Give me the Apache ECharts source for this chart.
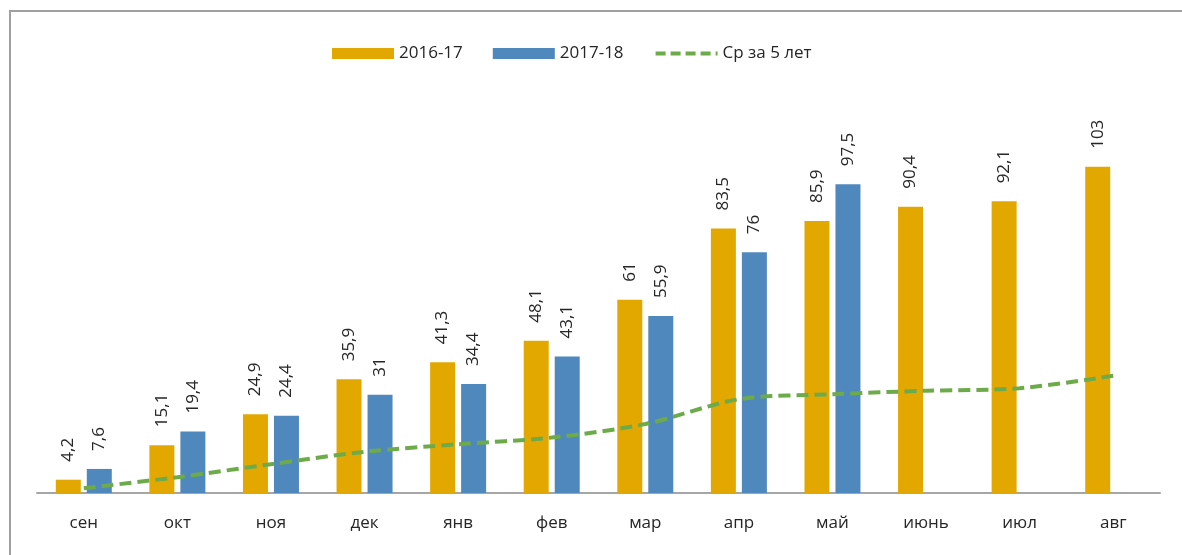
<!DOCTYPE html>
<html><head><meta charset="utf-8">
<script src="https://cdn.jsdelivr.net/npm/echarts@6/dist/echarts.min.js"></script>
<style>
html,body{margin:0;padding:0;background:#fff;overflow:hidden;}
#frame{position:absolute;left:9px;top:10px;width:1200px;height:600px;border-left:2px solid #a0a0a0;border-top:2px solid #a0a0a0;box-sizing:border-box;}
#chart{position:absolute;left:0;top:0;width:1182px;height:555px;}
</style></head>
<body>
<div id="frame"></div>
<div id="chart"></div>
<script>
const categories = ['сен','окт','ноя','дек','янв','фев','мар','апр','май','июнь','июл','авг'];
const s2016 = [4.2,15.1,24.9,35.9,41.3,48.1,61,83.5,85.9,90.4,92.1,103];
const s2017 = [7.6,19.4,24.4,31,34.4,43.1,55.9,76,97.5,null,null,null];
const avg5 = [1.5,5.0,9.1,13.0,15.4,17.5,21.8,29.6,31.2,32.3,33.1,37.0];
const seriesNames = ['2016-17','2017-18','Ср за 5 лет'];

const fmt = p => (p.value == null ? '' : String(p.value).replace('.', ','));
const lbl = {
  show: true, position: 'top', rotate: 90, distance: 18,
  align: 'left', verticalAlign: 'middle',
  fontFamily: 'Open Sans', fontSize: 17, color: '#262626', formatter: fmt
};
const chart = echarts.init(document.getElementById('chart'), null, {renderer:'canvas'});
chart.setOption({
  animation: false,
  textStyle: {fontFamily: 'Open Sans'},
  legend: {
    left: 327, top: 40, itemWidth: 62, itemHeight: 11, itemGap: 30,
    textStyle: {fontFamily: 'Open Sans', fontSize: 17, color: '#262626'},
    data: [
      {name: seriesNames[0], icon: 'rect'},
      {name: seriesNames[1], icon: 'rect'},
      {name: seriesNames[2], itemStyle: {opacity: 0}, lineStyle: {width: 4, type: [10, 5]}}
    ]
  },
  grid: {left: 37, right: 22, top: 113, bottom: 62},
  xAxis: {
    type: 'category', data: categories,
    axisLine: {lineStyle: {color: '#a6a6a6', width: 2}},
    axisTick: {show: false},
    axisLabel: {fontFamily: 'Open Sans', fontSize: 17, color: '#262626', margin: 22}
  },
  yAxis: {type: 'value', min: 0, max: 120, show: false, splitLine: {show: false}},
  series: [
    {name: seriesNames[0], type: 'bar', data: s2016, barWidth: 25, barGap: '24%',
     itemStyle: {color: '#e3a800'}, label: lbl},
    {name: seriesNames[1], type: 'bar', data: s2017, barWidth: 25,
     itemStyle: {color: '#4f88bd'}, label: lbl},
    {name: seriesNames[2], type: 'line', data: avg5, smooth: 0.3, symbol: 'none',
     lineStyle: {color: '#6dab4a', width: 4, type: [12, 6]},
     itemStyle: {color: '#6dab4a'}, z: 5}
  ]
});
</script>
</body></html>
